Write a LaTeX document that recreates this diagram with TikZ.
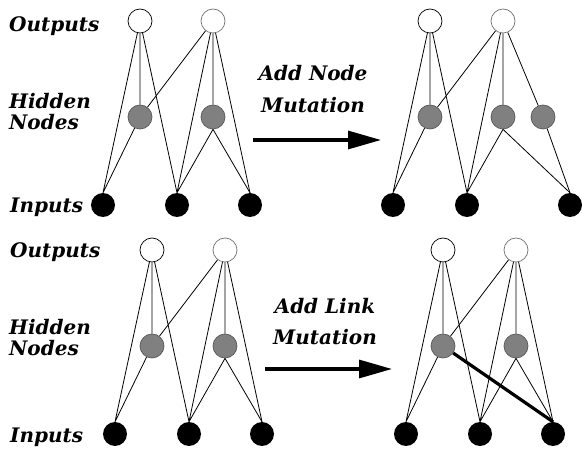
\documentclass[tikz,border=0pt]{standalone}
\usepackage{fontspec}
\setmainfont{DejaVu Serif}
\usetikzlibrary{arrows.meta}

\begin{document}
\begin{tikzpicture}[x=1pt,y=-1pt,
    outnode/.style={circle,draw=black,fill=white,minimum size=24pt,inner sep=0pt,line width=0.7pt},
    outnodeb/.style={outnode,draw=black!55},
    hidnode/.style={circle,draw=black!65,fill=black!50,minimum size=24pt,inner sep=0pt,line width=0.7pt},
    innode/.style={circle,fill=black,minimum size=24pt,inner sep=0pt},
    link/.style={line width=0.8pt},
    newlink/.style={line width=3.2pt},
    mutarrow/.style={line width=3.2pt,-{Triangle[length=33pt,width=18pt]}},
    lbl/.style={font=\fontsize{20}{21}\selectfont\bfseries\itshape,inner sep=0pt,align=left},
    mutlbl/.style={font=\fontsize{20}{32}\selectfont\bfseries\itshape,inner sep=0pt,align=center}]
  \useasboundingbox (0,0) rectangle (582,449);
  % the four nets: name / position of first output / offset of third input
  \foreach \n/\x/\y/\k in {a/140/21/110, b/430/21/140, c/152/250/110, d/443/250/110} {
    \begin{scope}[shift={(\x,\y)}]
      \node [outnode] (\n o1) at (0,0) {};
      \node [outnodeb] (\n o2) at (73,0) {};
      \node [hidnode] (\n h1) at (0,96) {};
      \node [hidnode] (\n h2) at (73,96) {};
      \node [innode] (\n i1) at (-37,184) {};
      \node [innode] (\n i2) at (37,184) {};
      \node [innode] (\n i3) at (\k,184) {};
    \end{scope}
    \draw [link] (\n o1) -- (\n i1.north) (\n o1) -- (\n h1) (\n o1) -- (\n i2.north)
                 (\n o2) -- (\n h1) (\n o2) -- (\n i2.north) (\n o2) -- (\n h2)
                 (\n h1) -- (\n i1.north) (\n h2.south) -- (\n i2.north)
                 (\n h2.south) -- (\n i3.north);
  }
  \node [hidnode] (bh3) at (543,117) {};
  \draw [link] (ao2) -- (ai3.north) (co2) -- (ci3.north) (do2) -- (di3.north)
               (bo2) -- (bh3) (bh3) -- (bi3.north);
  \draw [newlink] (dh1) -- (di3.north);

  % labels on the left
  \node [lbl,anchor=base west] (outA) at (9,32) {Outputs};
  \node [lbl,anchor=base west] (hidA) at (9,130) {Hidden\\Nodes};
  \node [lbl,anchor=base west] (inA) at (10,213) {Inputs};
  \node [lbl,anchor=base west] (outC) at (10,258) {Outputs};
  \node [lbl,anchor=base west] (hidC) at (9,356) {Hidden\\Nodes};
  \node [lbl,anchor=base west] (inC) at (10,443) {Inputs};

  % mutations
  \node [mutlbl,anchor=base] (nodemut) at (313,113) {Add Node\\Mutation};
  \coordinate (nodearr1) at (253,140);
  \coordinate (nodearr2) at (381,140);
  \draw [mutarrow] (nodearr1) -- (nodearr2);
  \node [mutlbl,anchor=base] (linkmut) at (325,345) {Add Link\\Mutation};
  \coordinate (linkarr1) at (265,369);
  \coordinate (linkarr2) at (392,369);
  \draw [mutarrow] (linkarr1) -- (linkarr2);
\end{tikzpicture}
\end{document}
